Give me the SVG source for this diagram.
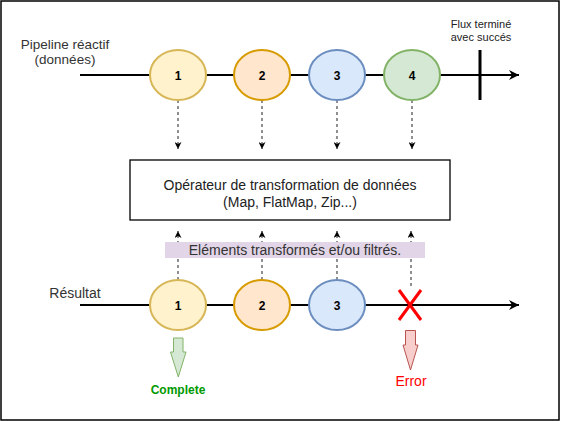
<svg xmlns="http://www.w3.org/2000/svg" width="561" height="421" viewBox="0 0 561 421">
<defs>
<style>
text{font-family:"Liberation Sans",Arial,sans-serif;}
.lbl{font-size:13.5px;fill:#333;}
.num{font-size:12px;font-weight:bold;fill:#000;text-anchor:middle;}
.axis{stroke:#000;stroke-width:2;fill:none;}
.dash{stroke:#555;stroke-width:1.3;stroke-dasharray:3,3;fill:none;}
</style>
<marker id="ah" viewBox="0 0 10 10" refX="10" refY="5" markerWidth="10" markerHeight="10" markerUnits="userSpaceOnUse" orient="auto"><path d="M0,0 L10,5 L0,10 L3,5 Z" fill="#000"/></marker>
<marker id="sh" viewBox="0 0 10 10" refX="10" refY="5" markerWidth="7" markerHeight="7" markerUnits="userSpaceOnUse" orient="auto"><path d="M0,0 L10,5 L0,10 L3,5 Z" fill="#000"/></marker>
</defs>
<rect x="1" y="1" width="558" height="419" fill="#fff" stroke="#000" stroke-width="1.5"/>
<g id="connectors">
<line class="axis" x1="80" y1="75" x2="519" y2="75" marker-end="url(#ah)"/>
<line class="axis" x1="80" y1="305" x2="519" y2="305" marker-end="url(#ah)"/>
<line x1="480" y1="50" x2="480" y2="100" stroke="#000" stroke-width="3"/>
<line class="dash" x1="178" y1="100" x2="178" y2="149" marker-end="url(#sh)"/>
<line class="dash" x1="262" y1="100" x2="262" y2="149" marker-end="url(#sh)"/>
<line class="dash" x1="337" y1="100" x2="337" y2="149" marker-end="url(#sh)"/>
<line class="dash" x1="412" y1="100" x2="412" y2="149" marker-end="url(#sh)"/>
<line class="dash" x1="178" y1="280" x2="178" y2="231" marker-end="url(#sh)"/>
<line class="dash" x1="262" y1="280" x2="262" y2="231" marker-end="url(#sh)"/>
<line class="dash" x1="337" y1="280" x2="337" y2="231" marker-end="url(#sh)"/>
<line class="dash" x1="411" y1="286" x2="411" y2="231" marker-end="url(#sh)"/>
</g>
<g id="label-pipeline"><text class="lbl" x="65" y="49" text-anchor="middle">Pipeline réactif</text><text class="lbl" x="65" y="64" text-anchor="middle">(données)</text></g>
<g id="label-flux"><text x="481" y="28" text-anchor="middle" font-size="11" fill="#222">Flux terminé</text><text x="481" y="41" text-anchor="middle" font-size="11" fill="#222">avec succés</text></g>
<g id="label-resultat"><text x="75" y="298" text-anchor="middle" font-size="14" fill="#333">Résultat</text></g>
<g id="in1"><ellipse cx="178" cy="75" rx="28" ry="25" fill="#fff2cc" stroke="#d6b656" stroke-width="2"/><text class="num" x="178" y="80">1</text></g>
<g id="in2"><ellipse cx="262" cy="75" rx="28" ry="25" fill="#ffe6cc" stroke="#d79b00" stroke-width="2"/><text class="num" x="262" y="80">2</text></g>
<g id="in3"><ellipse cx="337" cy="75" rx="28" ry="25" fill="#dae8fc" stroke="#6c8ebf" stroke-width="2"/><text class="num" x="337" y="80">3</text></g>
<g id="in4"><ellipse cx="412" cy="75" rx="28" ry="25" fill="#d5e8d4" stroke="#82b366" stroke-width="2"/><text class="num" x="412" y="80">4</text></g>
<g id="operator"><rect x="130" y="160" width="320" height="60" fill="#fff" stroke="#000" stroke-width="1.3"/><text x="290" y="190" text-anchor="middle" font-size="14" fill="#222">Opérateur de transformation de données</text><text x="290" y="207" text-anchor="middle" font-size="14" fill="#222">(Map, FlatMap, Zip...)</text></g>
<g id="transformed"><rect x="165" y="242" width="260" height="16" fill="#e1d5e7"/><text x="295" y="255" text-anchor="middle" font-size="14" fill="#333">Eléments transformés et/ou filtrés.</text></g>
<g id="out1"><ellipse cx="178" cy="305" rx="28" ry="25" fill="#fff2cc" stroke="#d6b656" stroke-width="2"/><text class="num" x="178" y="310">1</text></g>
<g id="out2"><ellipse cx="262" cy="305" rx="28" ry="25" fill="#ffe6cc" stroke="#d79b00" stroke-width="2"/><text class="num" x="262" y="310">2</text></g>
<g id="out3"><ellipse cx="337" cy="305" rx="28" ry="25" fill="#dae8fc" stroke="#6c8ebf" stroke-width="2"/><text class="num" x="337" y="310">3</text></g>
<g id="error-x"><path d="M399,290 L421,320 M421,290 L399,320" stroke="#ff0000" stroke-width="3" fill="none"/></g>
<g id="complete"><path d="M173.5,338 L183,338 L183,352 L186,352 L178.3,377 L170.5,352 L173.5,352 Z" fill="#d5e8d4" stroke="#82b366" stroke-width="1"/><text x="178" y="394" text-anchor="middle" font-size="12" font-weight="bold" fill="#009900">Complete</text></g>
<g id="error"><path d="M405.5,330.5 L415.5,330.5 L415.5,345 L418,345 L410.5,370 L403,345 L405.5,345 Z" fill="#f8cecc" stroke="#b85450" stroke-width="1"/><text x="411" y="386" text-anchor="middle" font-size="14" fill="#ff0000">Error</text></g>
</svg>
